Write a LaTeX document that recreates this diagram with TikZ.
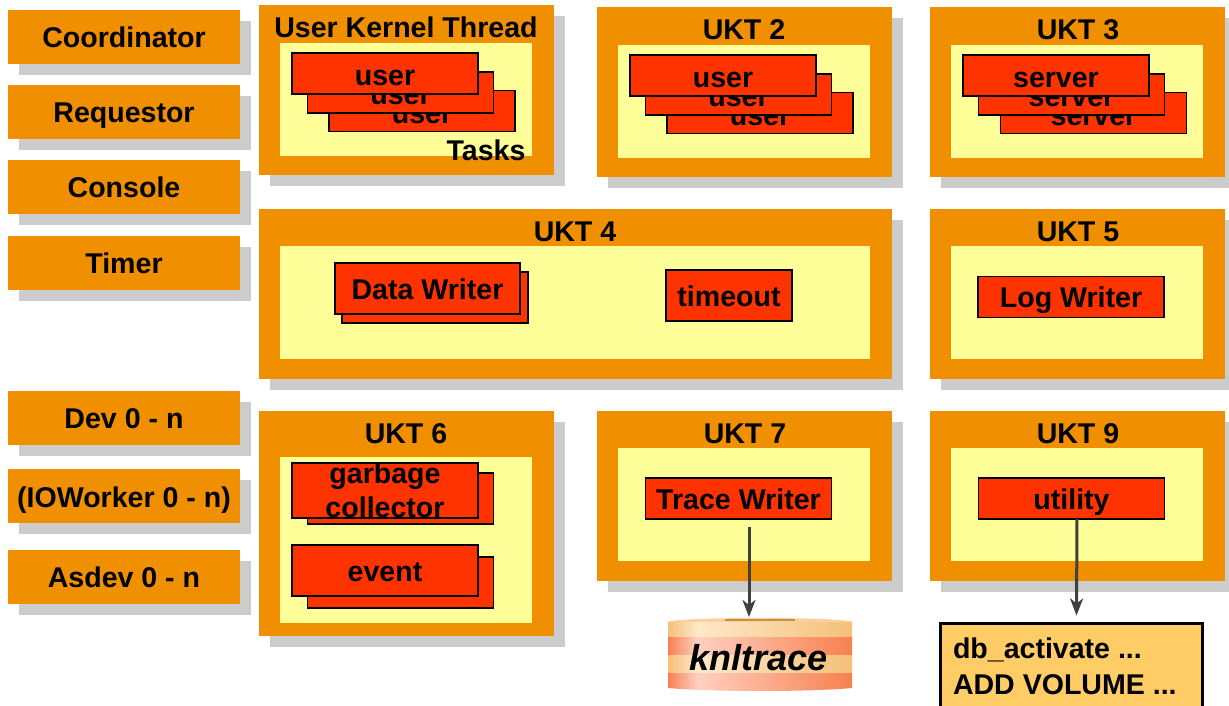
\documentclass[tikz,border=0pt]{standalone}
\usepackage{fontspec}
\setmainfont{Liberation Sans}
\usetikzlibrary{shadows,arrows.meta}
\definecolor{panelorange}{HTML}{F09000}
\definecolor{innerpale}{HTML}{FFFF99}
\definecolor{taskred}{HTML}{FF3300}
\definecolor{shadowgray}{HTML}{CCCCCC}
\definecolor{flowgray}{HTML}{404040}
\definecolor{cmdorange}{HTML}{FFCC66}
\definecolor{diskedge}{HTML}{F5C078}
\definecolor{diskglow}{HTML}{FEE8C8}
\definecolor{disksalmon}{HTML}{F78050}
\definecolor{diskpink}{HTML}{FFD0C0}
\definecolor{disktopcolor}{HTML}{FBD0A0}
\definecolor{diskmark}{HTML}{C89040}
\pgfdeclarehorizontalshading{bandlight}{100bp}{color(0bp)=(diskedge);color(25bp)=(diskedge);color(33bp)=(diskglow);color(75bp)=(diskedge);color(100bp)=(diskedge)}
\pgfdeclarehorizontalshading{bandsalmon}{100bp}{color(0bp)=(disksalmon);color(25bp)=(disksalmon);color(33bp)=(diskpink);color(75bp)=(disksalmon);color(100bp)=(disksalmon)}
\tikzset{
    labeltext/.style={font=\bfseries\fontsize{16.25}{20.4}\selectfont, inner sep=0pt, outer sep=0pt},
    sideproc/.style={labeltext, fill=panelorange, minimum width=4.64cm, minimum height=1.08cm, text height=0.44cm, text depth=0cm,
        drop shadow={shadow xshift=0.22cm, shadow yshift=-0.22cm, fill=shadowgray, opacity=1}},
    panel/.style={inner sep=0pt, fill=panelorange, minimum width=5.9cm, minimum height=3.4cm,
        drop shadow={shadow xshift=0.22cm, shadow yshift=-0.22cm, fill=shadowgray, opacity=1}},
    inner/.style={inner sep=0pt, fill=innerpale, minimum width=5.04cm, minimum height=2.26cm},
    paneltitle/.style={labeltext, text height=0.44cm, text depth=0cm},
    taskbase/.style={labeltext, draw=black, line width=0.024cm, fill=taskred, minimum width=3.72cm, minimum height=0.82cm, align=center},
    taskbox/.style={taskbase, text height=0.43cm, text depth=0cm},
    usertask/.style={taskbase, text height=0.5cm, text depth=0cm},
    flow/.style={-{Stealth[length=0.34cm, width=0.26cm, inset=0.1cm]}, draw=flowgray, line width=0.06cm},
}
\begin{document}
\begin{tikzpicture}
    \clip (0, 0) rectangle (24.58, -14.12);
    % left column
    \node[sideproc] (coordinator) at (2.48, -0.74) {Coordinator};
    \node[sideproc] (requestor) at (2.48, -2.24) {Requestor};
    \node[sideproc] (console) at (2.48, -3.74) {Console};
    \node[sideproc] (timer) at (2.48, -5.26) {Timer};
    \node[sideproc] (dev) at (2.48, -8.36) {Dev 0 - n};
    \node[sideproc] (ioworker) at (2.48, -9.92) {(IOWorker 0 - n)};
    \node[sideproc] (asdev) at (2.48, -11.54) {Asdev 0 - n};
    % first row
    \node[panel] (uktone) at (8.13, -1.80) {};
    \node[inner] (uktoneinner) at (8.12, -1.99) {};
    \node[paneltitle] (uktonetitle) at (8.12, -0.54) {User Kernel Thread};
    \node[usertask] (userc) at (8.44, -2.22) {user};
    \node[usertask] (userb) at (8.01, -1.85) {user};
    \node[usertask] (usera) at (7.70, -1.47) {user};
    \node[paneltitle] (taskstitle) at (9.72, -3.00) {Tasks};
    \node[panel] (ukttwo) at (14.89, -1.84) {};
    \node[inner] (ukttwoinner) at (14.88, -2.03) {};
    \node[paneltitle] (ukttwotitle) at (14.88, -0.58) {UKT 2};
    \node[usertask] (usertwoc) at (15.20, -2.26) {user};
    \node[usertask] (usertwob) at (14.77, -1.89) {user};
    \node[usertask] (usertwoa) at (14.46, -1.51) {user};
    \node[panel] (uktthree) at (21.55, -1.84) {};
    \node[inner] (uktthreeinner) at (21.54, -2.03) {};
    \node[paneltitle] (uktthreetitle) at (21.56, -0.58) {UKT 3};
    \node[usertask] (serverc) at (21.87, -2.26) {server};
    \node[usertask] (serverb) at (21.43, -1.89) {server};
    \node[usertask] (servera) at (21.12, -1.51) {server};
    % second row
    \node[panel, minimum width=12.66cm] (uktfour) at (11.51, -5.88) {};
    \node[inner, minimum width=11.8cm] (uktfourinner) at (11.50, -6.05) {};
    \node[paneltitle] (uktfourtitle) at (11.50, -4.62) {UKT 4};
    \node[taskbox, minimum height=1.02cm] (datawriterback) at (8.70, -5.95) {};
    \node[taskbox, minimum height=1.02cm, minimum width=3.7cm] (datawriter) at (8.55, -5.77) {Data Writer};
    \node[taskbox, minimum height=1.02cm, minimum width=2.52cm] (timeout) at (14.58, -5.91) {timeout};
    \node[panel] (uktfive) at (21.55, -5.88) {};
    \node[inner] (uktfiveinner) at (21.54, -6.05) {};
    \node[paneltitle] (uktfivetitle) at (21.56, -4.62) {UKT 5};
    \node[taskbox] (logwriter) at (21.42, -5.94) {Log Writer};
    % third row
    \node[panel, minimum height=4.5cm] (uktsix) at (8.13, -10.47) {};
    \node[inner, minimum height=3.32cm] (uktsixinner) at (8.12, -10.80) {};
    \node[paneltitle] (uktsixtitle) at (8.12, -8.66) {UKT 6};
    \node[taskbase, minimum height=1.02cm] (garbageback) at (8.01, -9.97) {};
    \node[taskbase, minimum height=1.02cm] (garbage) at (7.70, -9.81) {garbage\\[-1.1pt]collector};
    \node[taskbox, minimum height=1.02cm] (eventback) at (8.01, -11.65) {};
    \node[taskbox, minimum height=1.02cm] (event) at (7.70, -11.41) {event};
    \node[panel] (uktseven) at (14.89, -9.92) {};
    \node[inner] (uktseveninner) at (14.88, -10.09) {};
    \node[paneltitle] (uktseventitle) at (14.90, -8.66) {UKT 7};
    \node[taskbox] (tracewriter) at (14.77, -9.97) {Trace Writer};
    \node[panel] (uktnine) at (21.55, -9.92) {};
    \node[inner] (uktnineinner) at (21.54, -10.09) {};
    \node[paneltitle] (uktninetitle) at (21.56, -8.66) {UKT 9};
    \node[taskbox] (utility) at (21.43, -9.97) {utility};
    % trace disk
    \fill[disktopcolor] (15.20, -12.44) ellipse (1.84 and 0.08);
    \shade[shading=bandlight] (13.36, -12.44) rectangle (17.04, -12.74);
    \shade[shading=bandsalmon] (13.36, -12.74) rectangle (17.04, -13.10);
    \shade[shading=bandlight] (13.36, -13.10) rectangle (17.04, -13.46);
    \shade[shading=bandsalmon] (13.36, -13.46) -- (17.04, -13.46) -- (17.04, -13.76) .. controls (16.2, -13.84) and (14.2, -13.84) .. (13.36, -13.76) -- cycle;
    \fill[diskmark] (14.50, -12.37) rectangle (15.90, -12.42);
    \node[labeltext, font=\bfseries\itshape\fontsize{20.5}{24}\selectfont] (knltrace) at (15.17, -13.15) {knltrace};
    \coordinate (disktop) at (14.98, -12.34);
    \coordinate (traceout) at (14.98, -10.54);
    % command box
    \node[draw=black, line width=0.06cm, fill=cmdorange, inner sep=0pt, minimum width=5.24cm, minimum height=2.14cm] (cmdbox) at (21.42, -13.53) {};
    \node[labeltext, anchor=base west] (dbactivate) at (19.06, -13.16) {db\_activate ...};
    \node[labeltext, anchor=base west] (addvolume) at (19.06, -13.88) {ADD VOLUME ...};
    % arrows
    \draw[flow] (traceout) -- (disktop);
    \draw[flow] ([xshift=0.11cm]utility.south) -- ([xshift=0.11cm, yshift=0.12cm]cmdbox.north);
\end{tikzpicture}
\end{document}
